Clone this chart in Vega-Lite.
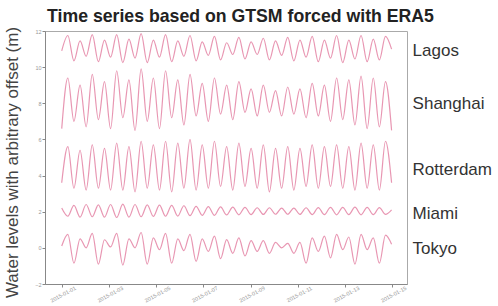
{
  "$schema": "https://vega.github.io/schema/vega-lite/v6.json",
  "width": 362,
  "height": 253,
  "autosize": {"type": "none"},
  "padding": {"left": 45, "top": 31, "right": 91, "bottom": 22},
  "background": "white",
  "config": {
    "font": "Liberation Sans",
    "view": {"stroke": "#aaaaaa", "strokeWidth": 1}
  },
  "title": {
    "text": "Time series based on GTSM forced with ERA5",
    "anchor": "start",
    "frame": "group",
    "fontSize": 17.7,
    "fontWeight": "bold",
    "color": "#222222",
    "font": "Liberation Sans",
    "offset": 1,
    "dx": 2
  },
  "data": {
    "values": [
      {"t": "2015-01-01T00:00", "Lagos": 10.9, "Shanghai": 6.6, "Rotterdam": 3.6, "Miami": 2.2, "Tokyo": 0.1},
      {"t": "2015-01-01T06:13", "Lagos": 11.75, "Shanghai": 9.4, "Rotterdam": 5.6, "Miami": 1.75, "Tokyo": 0.75},
      {"t": "2015-01-01T12:25", "Lagos": 10.35, "Shanghai": 7.0, "Rotterdam": 3.3, "Miami": 2.35, "Tokyo": -0.85},
      {"t": "2015-01-01T18:38", "Lagos": 11.45, "Shanghai": 9.0, "Rotterdam": 5.4, "Miami": 1.7, "Tokyo": 0.5},
      {"t": "2015-01-02T00:50", "Lagos": 10.6, "Shanghai": 6.7, "Rotterdam": 3.2, "Miami": 2.4, "Tokyo": 0.0},
      {"t": "2015-01-02T07:03", "Lagos": 11.8, "Shanghai": 9.6, "Rotterdam": 5.7, "Miami": 1.72, "Tokyo": 0.8},
      {"t": "2015-01-02T13:16", "Lagos": 10.3, "Shanghai": 7.1, "Rotterdam": 3.3, "Miami": 2.38, "Tokyo": -0.9},
      {"t": "2015-01-02T19:28", "Lagos": 11.5, "Shanghai": 9.2, "Rotterdam": 5.5, "Miami": 1.7, "Tokyo": 0.45},
      {"t": "2015-01-03T01:41", "Lagos": 10.55, "Shanghai": 6.6, "Rotterdam": 3.2, "Miami": 2.4, "Tokyo": 0.05},
      {"t": "2015-01-03T07:53", "Lagos": 11.8, "Shanghai": 9.8, "Rotterdam": 5.8, "Miami": 1.68, "Tokyo": 0.8},
      {"t": "2015-01-03T14:06", "Lagos": 10.25, "Shanghai": 7.2, "Rotterdam": 3.2, "Miami": 2.42, "Tokyo": -0.95},
      {"t": "2015-01-03T20:19", "Lagos": 11.55, "Shanghai": 9.3, "Rotterdam": 5.6, "Miami": 1.7, "Tokyo": 0.5},
      {"t": "2015-01-04T02:31", "Lagos": 10.5, "Shanghai": 6.5, "Rotterdam": 3.1, "Miami": 2.4, "Tokyo": 0.0},
      {"t": "2015-01-04T08:44", "Lagos": 11.85, "Shanghai": 9.9, "Rotterdam": 5.9, "Miami": 1.72, "Tokyo": 0.85},
      {"t": "2015-01-04T14:56", "Lagos": 10.25, "Shanghai": 7.0, "Rotterdam": 3.3, "Miami": 2.38, "Tokyo": -0.9},
      {"t": "2015-01-04T21:09", "Lagos": 11.5, "Shanghai": 9.4, "Rotterdam": 5.7, "Miami": 1.74, "Tokyo": 0.55},
      {"t": "2015-01-05T03:22", "Lagos": 10.55, "Shanghai": 6.6, "Rotterdam": 3.2, "Miami": 2.36, "Tokyo": -0.1},
      {"t": "2015-01-05T09:34", "Lagos": 11.8, "Shanghai": 9.8, "Rotterdam": 5.9, "Miami": 1.75, "Tokyo": 0.8},
      {"t": "2015-01-05T15:47", "Lagos": 10.3, "Shanghai": 7.2, "Rotterdam": 3.1, "Miami": 2.35, "Tokyo": -0.85},
      {"t": "2015-01-05T21:59", "Lagos": 11.45, "Shanghai": 9.3, "Rotterdam": 5.8, "Miami": 1.76, "Tokyo": 0.5},
      {"t": "2015-01-06T04:12", "Lagos": 10.6, "Shanghai": 6.8, "Rotterdam": 3.3, "Miami": 2.33, "Tokyo": -0.15},
      {"t": "2015-01-06T10:25", "Lagos": 11.75, "Shanghai": 9.6, "Rotterdam": 6.0, "Miami": 1.78, "Tokyo": 0.75},
      {"t": "2015-01-06T16:37", "Lagos": 10.35, "Shanghai": 7.3, "Rotterdam": 3.2, "Miami": 2.3, "Tokyo": -0.75},
      {"t": "2015-01-06T22:50", "Lagos": 11.4, "Shanghai": 9.1, "Rotterdam": 5.7, "Miami": 1.8, "Tokyo": 0.5},
      {"t": "2015-01-07T05:02", "Lagos": 10.65, "Shanghai": 7.0, "Rotterdam": 3.3, "Miami": 2.28, "Tokyo": -0.2},
      {"t": "2015-01-07T11:15", "Lagos": 11.7, "Shanghai": 9.4, "Rotterdam": 5.9, "Miami": 1.8, "Tokyo": 0.65},
      {"t": "2015-01-07T17:28", "Lagos": 10.4, "Shanghai": 7.4, "Rotterdam": 3.4, "Miami": 2.27, "Tokyo": -0.6},
      {"t": "2015-01-07T23:40", "Lagos": 11.35, "Shanghai": 9.0, "Rotterdam": 5.6, "Miami": 1.82, "Tokyo": 0.45},
      {"t": "2015-01-08T05:53", "Lagos": 10.7, "Shanghai": 7.1, "Rotterdam": 3.2, "Miami": 2.25, "Tokyo": -0.3},
      {"t": "2015-01-08T12:05", "Lagos": 11.65, "Shanghai": 9.2, "Rotterdam": 5.8, "Miami": 1.83, "Tokyo": 0.55},
      {"t": "2015-01-08T18:18", "Lagos": 10.45, "Shanghai": 7.5, "Rotterdam": 3.4, "Miami": 2.24, "Tokyo": -0.45},
      {"t": "2015-01-09T00:31", "Lagos": 11.4, "Shanghai": 8.8, "Rotterdam": 5.5, "Miami": 1.84, "Tokyo": 0.4},
      {"t": "2015-01-09T06:43", "Lagos": 10.7, "Shanghai": 7.3, "Rotterdam": 3.3, "Miami": 2.22, "Tokyo": -0.2},
      {"t": "2015-01-09T12:56", "Lagos": 11.6, "Shanghai": 9.0, "Rotterdam": 5.7, "Miami": 1.85, "Tokyo": 0.4},
      {"t": "2015-01-09T19:08", "Lagos": 10.4, "Shanghai": 7.5, "Rotterdam": 3.1, "Miami": 2.22, "Tokyo": -0.3},
      {"t": "2015-01-10T01:21", "Lagos": 11.45, "Shanghai": 8.7, "Rotterdam": 5.5, "Miami": 1.86, "Tokyo": 0.3},
      {"t": "2015-01-10T07:34", "Lagos": 10.65, "Shanghai": 7.3, "Rotterdam": 3.3, "Miami": 2.2, "Tokyo": 0.0},
      {"t": "2015-01-10T13:46", "Lagos": 11.65, "Shanghai": 8.9, "Rotterdam": 5.6, "Miami": 1.86, "Tokyo": 0.25},
      {"t": "2015-01-10T19:59", "Lagos": 10.35, "Shanghai": 7.4, "Rotterdam": 3.2, "Miami": 2.2, "Tokyo": -0.3},
      {"t": "2015-01-11T02:11", "Lagos": 11.5, "Shanghai": 8.8, "Rotterdam": 5.5, "Miami": 1.85, "Tokyo": 0.3},
      {"t": "2015-01-11T08:24", "Lagos": 10.55, "Shanghai": 7.2, "Rotterdam": 3.4, "Miami": 2.22, "Tokyo": -0.85},
      {"t": "2015-01-11T14:37", "Lagos": 11.7, "Shanghai": 9.1, "Rotterdam": 5.7, "Miami": 1.84, "Tokyo": 0.55},
      {"t": "2015-01-11T20:49", "Lagos": 10.3, "Shanghai": 7.3, "Rotterdam": 3.3, "Miami": 2.23, "Tokyo": -0.2},
      {"t": "2015-01-12T03:02", "Lagos": 11.5, "Shanghai": 9.0, "Rotterdam": 5.6, "Miami": 1.84, "Tokyo": 0.65},
      {"t": "2015-01-12T09:14", "Lagos": 10.5, "Shanghai": 7.0, "Rotterdam": 3.4, "Miami": 2.24, "Tokyo": -0.55},
      {"t": "2015-01-12T15:27", "Lagos": 11.75, "Shanghai": 9.4, "Rotterdam": 5.7, "Miami": 1.83, "Tokyo": 0.75},
      {"t": "2015-01-12T21:40", "Lagos": 10.25, "Shanghai": 7.1, "Rotterdam": 3.3, "Miami": 2.24, "Tokyo": -0.1},
      {"t": "2015-01-13T03:52", "Lagos": 11.5, "Shanghai": 9.3, "Rotterdam": 5.6, "Miami": 1.84, "Tokyo": 0.6},
      {"t": "2015-01-13T10:05", "Lagos": 10.45, "Shanghai": 6.8, "Rotterdam": 3.2, "Miami": 2.25, "Tokyo": -0.9},
      {"t": "2015-01-13T16:17", "Lagos": 11.75, "Shanghai": 9.5, "Rotterdam": 5.8, "Miami": 1.83, "Tokyo": 0.75},
      {"t": "2015-01-13T22:30", "Lagos": 10.3, "Shanghai": 6.6, "Rotterdam": 3.3, "Miami": 2.24, "Tokyo": -0.1},
      {"t": "2015-01-14T04:43", "Lagos": 11.55, "Shanghai": 9.4, "Rotterdam": 5.7, "Miami": 1.84, "Tokyo": 0.55},
      {"t": "2015-01-14T10:55", "Lagos": 10.4, "Shanghai": 6.7, "Rotterdam": 3.2, "Miami": 2.23, "Tokyo": -0.85},
      {"t": "2015-01-14T17:08", "Lagos": 11.7, "Shanghai": 9.2, "Rotterdam": 5.9, "Miami": 1.85, "Tokyo": 0.7},
      {"t": "2015-01-14T23:20", "Lagos": 11.0, "Shanghai": 6.5, "Rotterdam": 3.6, "Miami": 2.1, "Tokyo": 0.2}
    ]
  },
  "transform": [
    {"fold": ["Lagos", "Shanghai", "Rotterdam", "Miami", "Tokyo"], "as": ["city", "level"]}
  ],
  "encoding": {
    "x": {
      "field": "t",
      "type": "temporal",
      "scale": {
        "domain": [
          {"year": 2014, "month": 12, "date": 31, "hours": 7},
          {"year": 2015, "month": 1, "date": 15, "hours": 15}
        ]
      },
      "axis": {
        "title": null,
        "grid": false,
        "tickCount": {"interval": "day", "step": 2},
        "format": "%Y-%m-%d",
        "labelAngle": -28,
        "labelAlign": "center",
        "labelBaseline": "top",
        "labelFontSize": 5.5,
        "labelColor": "#999999",
        "labelPadding": 5,
        "tickColor": "#888888",
        "tickSize": 3,
        "domainColor": "#888888",
        "labelFlush": false,
        "labelOverlap": false
      }
    },
    "y": {
      "field": "level",
      "type": "quantitative",
      "scale": {"domain": [-2, 12], "nice": false, "zero": false},
      "axis": {
        "title": "Water levels with arbitrary offset (m)",
        "titleFontSize": 17,
        "titleFontWeight": "normal",
        "titleColor": "#444444",
        "titleX": -33,
        "titleY": 131,
        "titleBaseline": "middle",
        "grid": false,
        "values": [-2, 0, 2, 4, 6, 8, 10, 12],
        "labelFontSize": 5.5,
        "labelColor": "#999999",
        "labelPadding": 1,
        "tickColor": "#888888",
        "tickSize": 3,
        "domainColor": "#888888",
        "labelFlush": false
      }
    }
  },
  "layer": [
    {
      "mark": {
        "type": "line",
        "interpolate": "monotone",
        "color": "#e27c9f",
        "strokeWidth": 1.2,
        "opacity": 0.8
      },
      "encoding": {"detail": {"field": "city", "type": "nominal"}}
    },
    {
      "mark": {
        "type": "text",
        "align": "left",
        "baseline": "middle",
        "dx": 21,
        "dy": 3,
        "fontSize": 17,
        "color": "#333333",
        "font": "Liberation Sans",
        "clip": false
      },
      "encoding": {
        "x": {"field": "t", "type": "temporal", "aggregate": "max"},
        "y": {"field": "level", "type": "quantitative", "aggregate": "mean"},
        "text": {"field": "city", "type": "nominal"}
      }
    }
  ]
}
